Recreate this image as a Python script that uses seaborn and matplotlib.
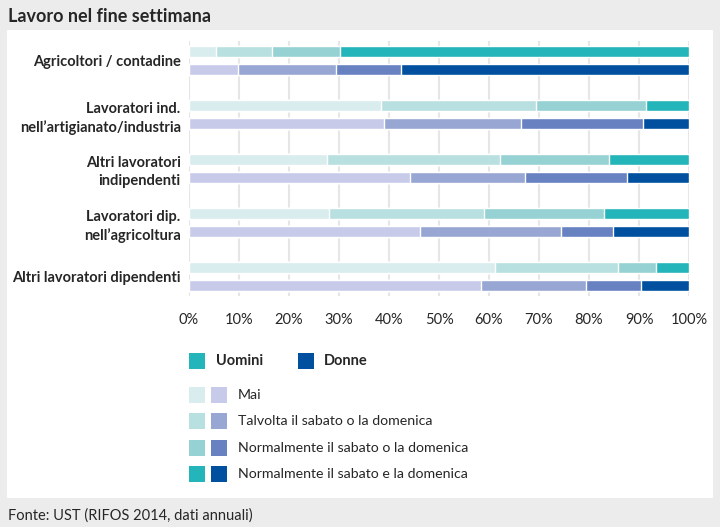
import pandas as pd
import seaborn as sns
import matplotlib.pyplot as plt
from matplotlib.patches import Rectangle

# categorie e valori (%)
categorie = [
    "Agricoltori / contadine",
    "Lavoratori ind.\nnell’artigianato/industria",
    "Altri lavoratori\nindipendenti",
    "Lavoratori dip.\nnell’agricoltura",
    "Altri lavoratori dipendenti",
]
livelli = [
    "Mai",
    "Talvolta il sabato o la domenica",
    "Normalmente il sabato o la domenica",
    "Normalmente il sabato e la domenica",
]
uomini_mai = [5.3, 38.3, 27.5, 27.9, 61.1]
uomini_talvolta = [11.3, 31.1, 34.7, 31.0, 24.6]
uomini_norm_o = [13.6, 21.9, 21.7, 24.1, 7.6]
uomini_norm_e = [69.8, 8.7, 16.1, 17.0, 6.7]
donne_mai = [9.7, 38.9, 44.2, 46.2, 58.3]
donne_talvolta = [19.6, 27.5, 22.9, 28.1, 21.0]
donne_norm_o = [13.0, 24.3, 20.4, 10.4, 11.0]
donne_norm_e = [57.7, 9.3, 12.5, 15.3, 9.7]

colori_uomini = ["#d9edef", "#b9e0e0", "#96d1d4", "#23b5b9"]
colori_donne = ["#c7cbe9", "#98a6d4", "#6781c1", "#00509f"]

W, H = 720, 527


def fx(px):
    return px / W


def fy(py):
    return 1 - py / H


# tabella lunga con somme cumulative per sovrapporre le barre
righe = []
serie_u = [uomini_mai, uomini_talvolta, uomini_norm_o, uomini_norm_e]
serie_d = [donne_mai, donne_talvolta, donne_norm_o, donne_norm_e]
for sesso, serie in [("Uomini", serie_u), ("Donne", serie_d)]:
    for i, cat in enumerate(categorie):
        cum = 0
        for k in range(4):
            cum += serie[k][i]
            righe.append({"categoria": cat, "sesso": sesso, "livello": k, "cum": cum})
df = pd.DataFrame(righe)

sns.set_theme(style="white")
plt.rcParams["font.family"] = ["Lato", "DejaVu Sans"]

fig = plt.figure(figsize=(7.2, 5.27), dpi=100)
fig.patch.set_facecolor("#ececec")
fig.add_artist(Rectangle((fx(7), fy(498)), fx(706), 468 / H,
                         transform=fig.transFigure, facecolor="white",
                         edgecolor="none", zorder=0))

ax = fig.add_axes([fx(189), fy(296), fx(500), 255 / H])
ax.set_facecolor("none")

# dal livello cumulativo più lungo al più corto
for k in range(3, -1, -1):
    sub = df[df["livello"] == k]
    sns.barplot(
        data=sub, y="categoria", x="cum", hue="sesso",
        order=categorie, hue_order=["Uomini", "Donne"],
        palette={"Uomini": colori_uomini[k], "Donne": colori_donne[k]},
        orient="h", width=0.67, gap=0.39, saturation=1,
        errorbar=None, legend=False, ax=ax, zorder=2,
    )

ax.set_xlim(0, 100)
ax.set_ylim(4.36, -0.36)
ax.set_xticks(range(0, 101, 10))
ax.set_xticklabels([f"{v}%" for v in range(0, 101, 10)], fontsize=10.5)
ax.tick_params(axis="x", length=0, pad=12)
ax.tick_params(axis="y", length=0, pad=6)
for lab in ax.get_yticklabels():
    lab.set_fontweight("bold")
    lab.set_fontsize(10.5)
    lab.set_linespacing(1.35)
ax.set_xlabel("")
ax.set_ylabel("")
ax.grid(axis="x", color="#e6e6e6", linewidth=1.5, zorder=0)
ax.set_axisbelow(True)
for s in ax.spines.values():
    s.set_visible(False)

# titolo e fonte
fig.text(fx(8), fy(16), "Lavoro nel fine settimana", fontsize=13,
         fontweight="bold", va="center", ha="left")
fig.text(fx(8), fy(516), "Fonte: UST (RIFOS 2014, dati annuali)", fontsize=10.5,
         va="center", ha="left")

# legenda
def quadrato(x, y, c):
    fig.add_artist(Rectangle((fx(x), fy(y + 16)), fx(16), 16 / H,
                             transform=fig.transFigure, facecolor=c,
                             edgecolor="none"))

quadrato(189, 353, colori_uomini[3])
fig.text(fx(216), fy(361), "Uomini", fontsize=10.5, fontweight="bold", va="center")
quadrato(298, 353, colori_donne[3])
fig.text(fx(324), fy(361), "Donne", fontsize=10.5, fontweight="bold", va="center")

righe_y = [395, 421, 448, 474]
for k, nome in enumerate(livelli):
    y = righe_y[k]
    quadrato(189, y - 8, colori_uomini[k])
    quadrato(211, y - 8, colori_donne[k])
    fig.text(fx(238), fy(y), nome, fontsize=10.2, va="center")

fig.savefig("out.png", dpi=100, facecolor=fig.get_facecolor())
